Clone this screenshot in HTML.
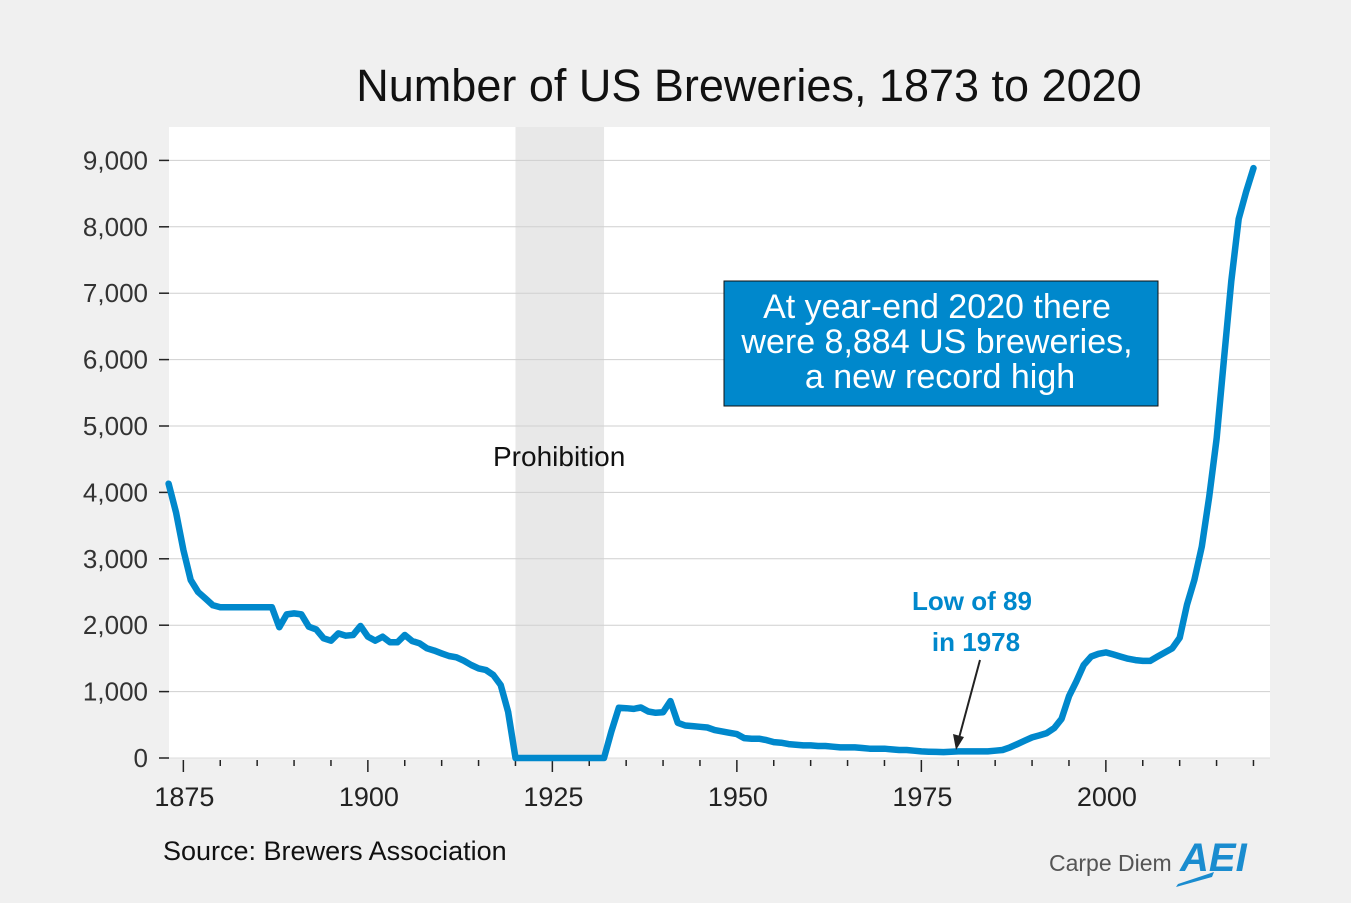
<!DOCTYPE html>
<html><head><meta charset="utf-8"><style>
html,body{margin:0;padding:0;background:#f0f0f0;}
svg{display:block;font-family:"Liberation Sans",sans-serif;}
</style></head><body>
<svg id="chart" width="1351" height="903" viewBox="0 0 1351 903" xmlns="http://www.w3.org/2000/svg">
<rect x="0" y="0" width="1351" height="903" fill="#f0f0f0"/>
<text x="749" y="101" text-anchor="middle" font-size="45" fill="#111">Number of US Breweries, 1873 to 2020</text>
<rect x="169" y="127" width="1101" height="631" fill="#fff"/>
<g id="bands"></g>
<g id="grid"></g>
<g id="axes"></g>
<g id="series"></g>
<text x="493" y="466" font-size="28" fill="#111">Prohibition</text>
<g>
<rect x="724" y="281" width="434" height="125" fill="#0088cc" stroke="#111" stroke-width="1"/>
<text x="937" y="318" text-anchor="middle" font-size="34" fill="#fff">At year-end 2020 there</text>
<text x="937" y="353" text-anchor="middle" font-size="34" fill="#fff">were 8,884 US breweries,</text>
<text x="940" y="388" text-anchor="middle" font-size="34" fill="#fff">a new record high</text>
</g>
<g>
<text x="972" y="610" text-anchor="middle" font-size="26" font-weight="bold" fill="#0088cc">Low of 89</text>
<text x="976" y="651" text-anchor="middle" font-size="26" font-weight="bold" fill="#0088cc">in 1978</text>
<line x1="980" y1="660" x2="959" y2="738" stroke="#222" stroke-width="2"/>
<polygon points="956,750 953,734 964,737" fill="#222"/>
</g>
<text x="163" y="860" font-size="27" fill="#111">Source: Brewers Association</text>
<g>
<text x="1049" y="871" font-size="23" fill="#555">Carpe Diem</text>
<text x="1180" y="871" font-size="40" font-weight="bold" font-style="italic" fill="#1a8ccf">AEI</text>
<polygon points="1178,884 1214,872 1212,877 1176,887" fill="#1a8ccf"/>
</g>
</svg>
<script>
const years = [];
for (let y = 1873; y <= 2020; y++) years.push(y);
const breweries = [4131,3700,3133,2680,2500,2400,2300,2270,2270,2270,2270,2270,2270,2270,2270,1970,2163,2178,2163,1977,1937,1802,1767,1877,1842,1852,1988,1827,1767,1827,1742,1742,1852,1762,1727,1652,1617,1576,1536,1516,1466,1401,1350,1325,1250,1099,697,
0,0,0,0,0,0,0,0,0,0,0,0,0,
400,756,750,740,760,700,680,690,857,530,490,480,470,460,420,400,380,360,300,290,290,270,240,230,210,200,190,190,180,180,170,160,160,160,150,140,140,140,130,120,120,110,100,95,92,89,95,100,100,100,100,100,110,120,160,210,260,310,340,375,450,590,930,1152,1400,1527,1570,1590,1560,1527,1495,1475,1462,1462,1527,1590,1652,1810,2308,2684,3184,3934,4807,5995,7184,8120,8525,8884];
const yTicks = [0,1000,2000,3000,4000,5000,6000,7000,8000,9000];
const yTickLabels = ["0","1,000","2,000","3,000","4,000","5,000","6,000","7,000","8,000","9,000"];
const xLabelYears = [1875,1900,1925,1950,1975,2000];
const prohibition = [1920,1932];

const NS = "http://www.w3.org/2000/svg";
const X = yr => 168.6 + (yr - 1873) * 7.38;
const Y = v => 758 - v * 0.0664;
function mk(tag, attrs, parent){const e=document.createElementNS(NS,tag);for(const k in attrs)e.setAttribute(k,attrs[k]);document.getElementById(parent).appendChild(e);return e;}

const band = mk('rect',{x:X(prohibition[0]),y:127,width:X(prohibition[1])-X(prohibition[0]),height:631,fill:'#e8e8e8'},'bands');



yTicks.forEach((v,i)=>{
  if(v>0){
    const g = mk('line',{x1:169,x2:1270,y1:Y(v),y2:Y(v),stroke:'#cfcfcf','stroke-width':1},'grid');
    
    
  }
  const t = mk('line',{x1:159,x2:169,y1:Y(v),y2:Y(v),stroke:'#222','stroke-width':1.5},'axes');
  
  
  const l = mk('text',{x:148,y:Y(v)+9,'text-anchor':'end','font-size':26,fill:'#333'},'axes');
  l.textContent = yTickLabels[i];
  
  
});
const ax = mk('line',{x1:169,x2:1270,y1:758,y2:758,stroke:'#ddd','stroke-width':1},'axes');


for(let yr=1875; yr<=2020; yr+=5){
  const major = xLabelYears.includes(yr);
  const t = mk('line',{x1:X(yr),x2:X(yr),y1:760,y2:major?772:766,stroke:'#222','stroke-width':1.5},'axes');
  
  
}
xLabelYears.forEach(yr=>{
  const l = mk('text',{x:X(yr)+1,y:806,'text-anchor':'middle','font-size':27,fill:'#222'},'axes');
  l.textContent = yr;
  
  
});
const d = years.map((yr,i)=>(i?'L':'M')+X(yr).toFixed(1)+','+Y(breweries[i]).toFixed(1)).join(' ');
const p = mk('path',{d:d,fill:'none',stroke:'#0088cc','stroke-width':6.5,'stroke-linejoin':'round','stroke-linecap':'round'},'series');


</script>
</body></html>
